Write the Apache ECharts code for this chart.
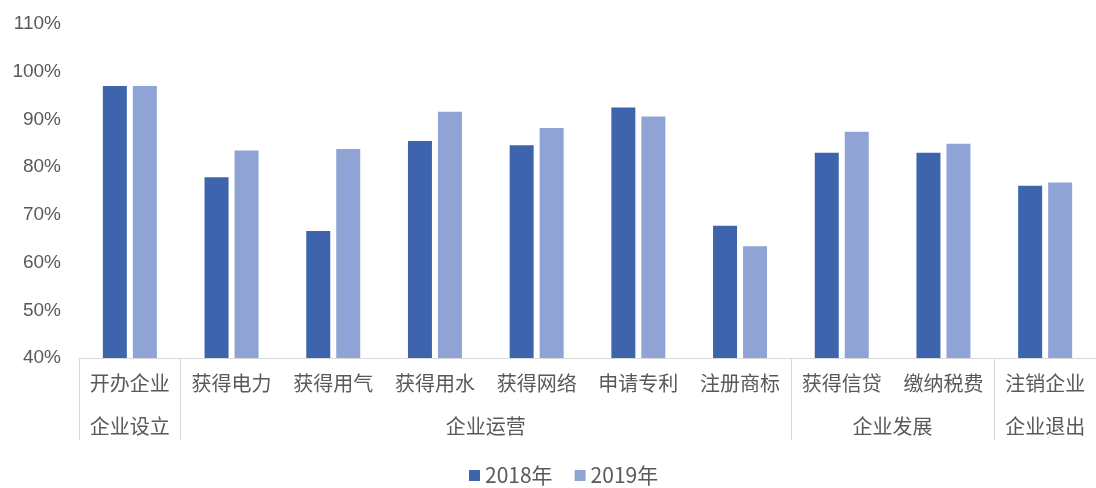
<!DOCTYPE html>
<html>
<head>
<meta charset="utf-8">
<script src="https://cdn.jsdelivr.net/npm/echarts@6/dist/echarts.min.js"></script>
<style>
html, body { margin: 0; padding: 0; background: #fff; }
#main { width: 1096px; height: 488px; }
</style>
</head>
<body>
<div id="main"></div>
<script>
var categories = ['开办企业', '获得电力', '获得用气', '获得用水', '获得网络', '申请专利', '注册商标', '获得信贷', '缴纳税费', '注销企业'];
var groupNames = ['企业设立', '企业运营', '企业发展', '企业退出'];
var groupSizes = [1, 6, 2, 1];
var data2018 = [97.0, 77.9, 66.6, 85.5, 84.6, 92.5, 67.7, 83.0, 83.0, 76.1];
var data2019 = [97.0, 83.5, 83.8, 91.6, 88.2, 90.6, 63.4, 87.4, 84.9, 76.8];
var yTicks = [40, 50, 60, 70, 80, 90, 100, 110];

// group boundaries and centres on a 0..n scale
var bounds = [0], centers = [], centerName = {};
groupSizes.forEach(function (s, i) {
    var start = bounds[bounds.length - 1];
    bounds.push(start + s);
    centers.push(start + s / 2);
    centerName[start + s / 2] = groupNames[i];
});

var chart = echarts.init(document.getElementById('main'));
var font = '"Noto Sans CJK SC", "Liberation Sans", sans-serif';
var option = {
    animation: false,
    grid: { left: 79, width: 1024, top: 24, bottom: 130 },
    legend: {
        bottom: -3,
        left: 464,
        itemWidth: 11,
        itemHeight: 11,
        itemGap: 22,
        icon: 'rect',
        textStyle: { color: '#595959', fontSize: 21, fontFamily: font },
        data: ['2018年', '2019年']
    },
    xAxis: [
        {
            type: 'category',
            data: categories,
            axisLine: { lineStyle: { color: '#d9d9d9', width: 1 } },
            axisTick: { show: false },
            axisLabel: { color: '#595959', fontSize: 20, fontFamily: font, margin: 15, interval: 0 }
        },
        {
            type: 'value',
            position: 'bottom',
            min: 0,
            max: categories.length,
            splitLine: { show: false },
            axisLine: { show: false },
            axisTick: {
                show: true,
                customValues: bounds,
                length: 82,
                lineStyle: { color: '#d9d9d9', width: 1 }
            },
            axisLabel: {
                customValues: centers,
                color: '#595959',
                fontSize: 20,
                fontFamily: font,
                margin: 58,
                formatter: function (v) { return centerName[v] || ''; }
            }
        }
    ],
    yAxis: {
        type: 'value',
        min: yTicks[0],
        max: yTicks[yTicks.length - 1],
        interval: 10,
        axisLine: { show: false },
        axisTick: { show: false },
        splitLine: { show: false },
        axisLabel: {
            color: '#595959',
            fontSize: 19,
            fontFamily: '"Liberation Sans", sans-serif',
            margin: 18,
            formatter: '{value}%'
        }
    },
    series: [
        {
            name: '2018年',
            type: 'bar',
            data: data2018,
            barWidth: 24,
            barGap: '25%',
            itemStyle: { color: '#3d64ac' }
        },
        {
            name: '2019年',
            type: 'bar',
            data: data2019,
            barWidth: 24,
            itemStyle: { color: '#8fa4d5' }
        }
    ]
};
chart.setOption(option);
</script>
</body>
</html>
